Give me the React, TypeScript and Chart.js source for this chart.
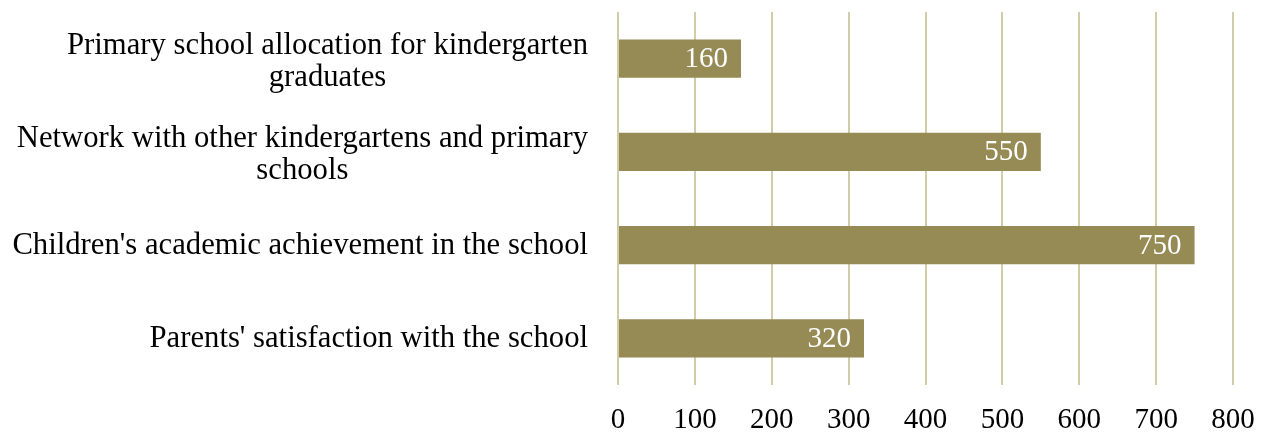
import React, { useEffect, useRef } from "react";
import { Chart, registerables } from "chart.js";
Chart.register(...registerables);

const categories: (string | string[])[] = [
  ["Primary school allocation for kindergarten", "graduates"],
  ["Network with other kindergartens and primary", "schools"],
  "Children's academic achievement in the school",
  "Parents' satisfaction with the school",
];
const values = [160, 550, 750, 320];
const xTicks = [0, 100, 200, 300, 400, 500, 600, 700, 800];

const FONT = "'Liberation Serif', 'DejaVu Serif', serif";
const LABEL_SIZE = 30.7;

const barLabels = {
  id: "barLabels",
  afterDatasetsDraw(chart: any) {
    const ctx = chart.ctx;
    const meta = chart.getDatasetMeta(0);
    ctx.save();
    ctx.fillStyle = "#ffffff";
    ctx.font = `29px ${FONT}`;
    ctx.textAlign = "right";
    ctx.textBaseline = "middle";
    meta.data.forEach((bar: any, i: number) => {
      ctx.fillText(String(values[i]), bar.x - 13, bar.y + 1);
    });
    ctx.restore();
  },
};

// category labels: block right-aligned against the axis, lines centered within the block
const catLabels = {
  id: "catLabels",
  afterDraw(chart: any) {
    const ctx = chart.ctx;
    const y = chart.scales.y;
    const right = chart.chartArea.left - 30;
    ctx.save();
    ctx.fillStyle = "#000";
    ctx.font = `${LABEL_SIZE}px ${FONT}`;
    ctx.textAlign = "center";
    ctx.textBaseline = "middle";
    categories.forEach((lab, i) => {
      const lines = Array.isArray(lab) ? lab : [lab];
      const maxW = Math.max(...lines.map((l) => ctx.measureText(l).width));
      const cx = right - maxW / 2;
      const cy = y.getPixelForValue(i);
      const n = lines.length;
      const off = n > 1 ? 3 : 1;
      lines.forEach((l, j) => {
        ctx.fillText(l, cx, cy + off + (j - (n - 1) / 2) * 32);
      });
    });
    ctx.restore();
  },
};

export default function App() {
  const ref = useRef<HTMLCanvasElement>(null);
  useEffect(() => {
    document.body.style.margin = "0";
    const chart = new Chart(ref.current!, {
      type: "bar",
      data: {
        labels: categories,
        datasets: [
          {
            data: values,
            backgroundColor: "#968A55",
            barPercentage: 0.41,
            categoryPercentage: 1,
          },
        ],
      },
      options: {
        indexAxis: "y",
        animation: false,
        responsive: false,
        maintainAspectRatio: false,
        layout: { padding: { top: 12, right: 40, bottom: 0, left: 0 } },
        plugins: { legend: { display: false }, tooltip: { enabled: false } },
        scales: {
          x: {
            min: 0,
            max: 800,
            afterBuildTicks: (scale: any) => {
              scale.ticks = xTicks.map((v) => ({ value: v }));
            },
            afterFit: (scale: any) => {
              scale.height = 49;
            },
            grid: { color: "#D3CCA9", lineWidth: 2, drawTicks: false },
            border: { display: false },
            ticks: {
              padding: 18,
              color: "#000",
              font: { family: FONT, size: 29 },
            },
          },
          y: {
            grid: { display: false },
            border: { display: false },
            afterFit: (scale: any) => {
              scale.width = 618;
              scale.paddingTop = 0;
              scale.paddingBottom = 0;
            },
            ticks: {
              padding: 30,
              color: "rgba(0,0,0,0)",
              font: { family: FONT, size: 30, lineHeight: 1.07 },
            },
          },
        },
      },
      plugins: [barLabels, catLabels],
    });
    return () => chart.destroy();
  }, []);
  return (
    <div style={{ width: 1273, height: 434 }}>
      <canvas ref={ref} width={1273} height={434} />
    </div>
  );
}
